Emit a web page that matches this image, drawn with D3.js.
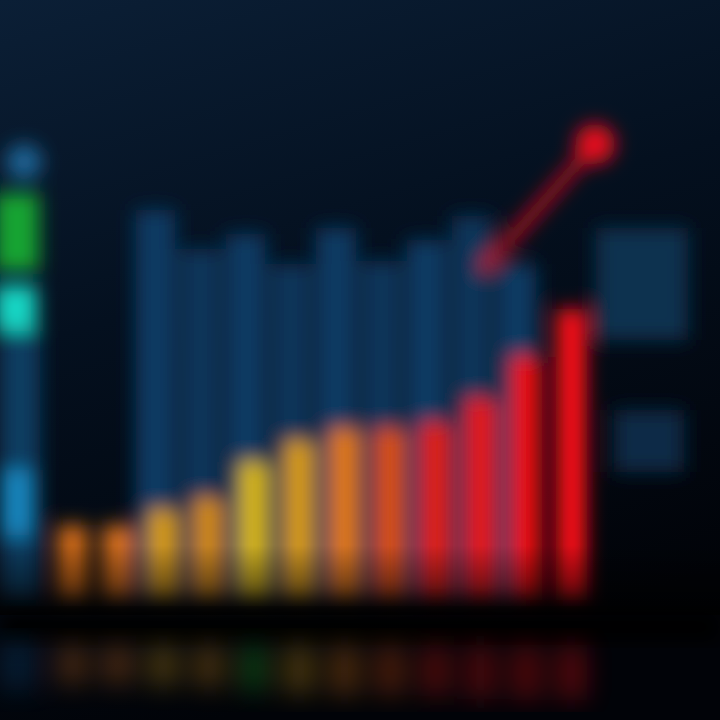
<!DOCTYPE html>
<html><head><meta charset="utf-8">
<script src="https://cdn.jsdelivr.net/npm/d3@7"></script>
<style>html,body{margin:0;padding:0;background:#020812;}svg{display:block}</style>
</head><body>
<script>
// Foreground bars (growth series)
const categories = ["1","2","3","4","5","6","7","8","9","10","11","12"];
const growthValues = [25, 25, 30, 34, 46, 53, 57, 57, 59, 67, 81, 97];
const growthColors = ["#d06a18","#d8701a","#d49a14","#d08818","#d4b412","#d69a16","#e07814","#d8500c","#e01a10","#e41212","#ec1010","#f81018"];
// Background bars (blue series)
const bgCategories = ["a","b","c","d","e","f","g","h","i"];
const bgValues = [130, 117, 122, 112, 124, 113, 120, 128, 112];
// Trend arrow (in value space: category index, value)
const trendPoints = [[9.45, 110], [11.85, 152]];

const W = 720, H = 720;
const svg = d3.select("body").append("svg").attr("width", W).attr("height", H);
const defs = svg.append("defs");

const bgGrad = defs.append("linearGradient").attr("id","bg").attr("x1",0).attr("y1",0).attr("x2",0.3).attr("y2",1);
bgGrad.append("stop").attr("offset","0%").attr("stop-color","#0b1f36");
bgGrad.append("stop").attr("offset","45%").attr("stop-color","#04101f");
bgGrad.append("stop").attr("offset","100%").attr("stop-color","#010308");

const fade = defs.append("linearGradient").attr("id","fade").attr("x1",0).attr("y1",0).attr("x2",0).attr("y2",1);
fade.append("stop").attr("offset","0%").attr("stop-color","#000").attr("stop-opacity",0);
fade.append("stop").attr("offset","100%").attr("stop-color","#000").attr("stop-opacity",0.75);

const blur = defs.append("filter").attr("id","blur").attr("x","-20%").attr("y","-20%").attr("width","140%").attr("height","140%");
blur.append("feGaussianBlur").attr("stdDeviation", 9.5);
const blur2 = defs.append("filter").attr("id","blur2").attr("x","-20%").attr("y","-20%").attr("width","140%").attr("height","140%");
blur2.append("feGaussianBlur").attr("stdDeviation", 13);

svg.append("rect").attr("width",W).attr("height",H).attr("fill","url(#bg)");

const y = d3.scaleLinear().domain([0, 100]).range([600, 300]);
const x = d3.scaleBand().domain(categories).range([42, 602]).padding(0.34);
const xb = d3.scaleBand().domain(bgCategories).range([130, 542]).padding(0.12);
const xi = d3.scaleLinear().domain([0, categories.length]).range([42, 602]);

const g = svg.append("g").attr("filter","url(#blur)");

// left side partial panel
const side = g.append("g");
side.append("rect").attr("x",0).attr("y",330).attr("width",40).attr("height",270).attr("fill","#0a3d62");
side.append("circle").attr("cx",24).attr("cy",162).attr("r",18).attr("fill","#1b6394");
side.append("rect").attr("x",-5).attr("y",193).attr("width",44).attr("height",78).attr("fill","#12a432");
side.append("rect").attr("x",-5).attr("y",285).attr("width",42).attr("height",46).attr("fill","#16d6c4");
side.append("rect").attr("x",0).attr("y",470).attr("width",32).attr("height",65).attr("fill","#1684bc");

// right side panels
g.append("rect").attr("x",596).attr("y",228).attr("width",92).attr("height",112).attr("fill","#0a3050");
g.append("rect").attr("x",614).attr("y",410).attr("width",70).attr("height",62).attr("fill","#092a46");

// background blue bars
g.selectAll("rect.bgbar").data(bgValues).join("rect").attr("class","bgbar")
  .attr("x",(d,i)=>xb(bgCategories[i])).attr("width",xb.bandwidth())
  .attr("y",d=>y(d)).attr("height",d=>y(0)-y(d))
  .attr("fill",(d,i)=> i%2 ? "#09345a" : "#0b3b64");

// trend arrow
const line = d3.line().x(d=>xi(d[0])).y(d=>y(d[1]));
g.append("path").attr("d", line(trendPoints)).attr("stroke","#c0101c").attr("stroke-width",12).attr("fill","none");
const tip = trendPoints[1];
g.append("circle").attr("cx",xi(tip[0])).attr("cy",y(tip[1])).attr("r",20).attr("fill","#e8101c");

// foreground bars
g.selectAll("rect.bar").data(growthValues).join("rect").attr("class","bar")
  .attr("x",(d,i)=>x(categories[i])).attr("width",x.bandwidth())
  .attr("y",d=>y(d)).attr("height",d=>y(0)-y(d))
  .attr("fill",(d,i)=>growthColors[i]);

// bottom fade of bars
svg.append("rect").attr("x",0).attr("y",545).attr("width",W).attr("height",70).attr("fill","url(#fade)");
svg.append("rect").attr("x",0).attr("y",612).attr("width",W).attr("height",30).attr("fill","#010206").attr("filter","url(#blur)");

// reflection
const refl = svg.append("g").attr("filter","url(#blur2)").attr("opacity",0.32);
refl.selectAll("rect").data(growthValues).join("rect")
  .attr("x",(d,i)=>x(categories[i])).attr("width",x.bandwidth())
  .attr("y",645).attr("height",d=>Math.min(55, 30 + (y(0)-y(d))*0.12))
  .attr("fill",(d,i)=> i===4 ? "#20a020" : growthColors[i]);
refl.append("rect").attr("x",0).attr("y",640).attr("width",35).attr("height",50).attr("fill","#0a4a7a");
</script>
</body></html>
